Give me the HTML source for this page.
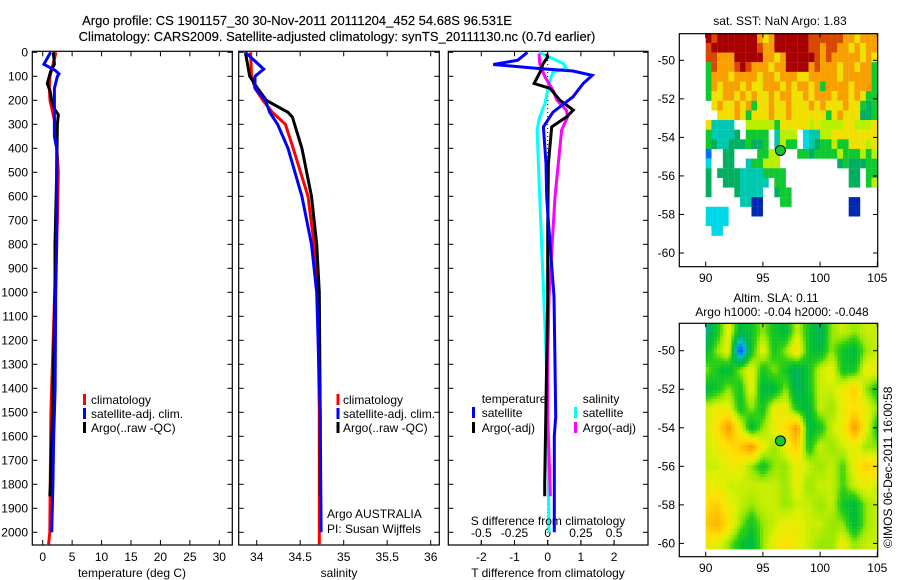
<!DOCTYPE html>
<html><head><meta charset="utf-8"><style>
html,body{margin:0;padding:0;background:#fff}
svg{display:block;font-family:"Liberation Sans",sans-serif;font-size:12px}
</style></head><body>
<svg id="fig" width="900" height="580" viewBox="0 0 900 580" xmlns="http://www.w3.org/2000/svg">
<rect width="900" height="580" fill="#fff"/>
<text x="297" y="25" text-anchor="middle" font-size="13" stroke="#000" stroke-width="0.15">Argo profile: CS 1901157_30 30-Nov-2011 20111204_452 54.68S 96.531E</text>
<text x="337" y="41" text-anchor="middle" font-size="13" stroke="#000" stroke-width="0.15">Climatology: CARS2009. Satellite-adjusted climatology: synTS_20111130.nc (0.7d earlier)</text>
<g id="g1"></g>
<g id="g2"></g>
<g id="g3"></g>
<g id="m1"></g>
<g id="m2"></g>
<text transform="translate(892,548) rotate(-90)" font-size="12">©IMOS 06-Dec-2011 16:00:58</text>
</svg>
<script>
// ---------- profile data ----------
const tDepthClim = [0,100,150,200,250,300,500,700,1000,1500,2000,2050];
const tClim      = [2.26,1.24,1.12,1.24,1.7,2.15,2.65,2.5,2.03,1.4,1.2,1.0];
const tDepthSat  = [0,50,75,90,100,150,200,350,400,800,1000,1400,1600,1800,2000];
const tSat       = [1.35,0.2,2.1,2.77,2.5,1.98,1.98,1.98,2.37,2.37,2.2,2.1,1.87,1.73,1.53];
const tDepthArgo = [0,50,80,130,160,200,240,260,300,500,800,1000,1500,1800,1850];
const tArgo      = [1.8,1.98,1.35,0.78,1.24,1.52,2.09,2.65,2.5,2.37,2.09,2.09,1.66,1.3,1.2];

const sDepthClim = [0,100,150,200,250,300,400,600,800,1000,1500,2050];
const sClim      = [33.93,33.94,33.98,34.07,34.18,34.33,34.42,34.59,34.66,34.70,34.72,34.72];
const sDepthSat  = [0,70,100,150,200,250,300,400,600,800,1000,1500,2000];
const sSat       = [33.87,34.08,33.98,33.98,34.10,34.15,34.24,34.36,34.52,34.63,34.69,34.73,34.74];
const sDepthArgo = [0,100,150,200,250,270,400,600,800,1000,1500,1850];
const sArgo      = [33.87,33.92,34.01,34.11,34.36,34.41,34.52,34.63,34.69,34.72,34.73,34.73];

const dDepthTs = [0,33,51,68,78,96,130,186,249,311,463,603,740,1018,1295,1518,1600,2000];
const dTsat    = [-0.61,-0.9,-1.64,-0.23,0.76,1.34,1.07,0.76,0.16,-0.13,-0.05,-0.03,0.04,0.19,0.22,0.24,0.2,0.2];
const dDepthTa = [6,20,47,82,130,150,200,241,269,311,463,740,1018,1800,1850];
const dTargo   = [-0.03,0,-0.14,-0.23,-0.41,0.07,0.37,0.77,0.57,0.12,0.02,0,0,-0.09,-0.09];
const dDepthSs = [0,47,68,82,130,213,269,324,463,603,740,1018,1295,1518,2000];
const dSsat    = [-0.065,0.12,0.14,0.04,0.01,-0.02,-0.06,-0.08,-0.07,-0.06,-0.05,-0.03,-0.01,0,0.01];
const dDepthSa = [6,47,103,158,200,241,269,324,463,603,740,1018,1295,1518,1850];
const dSargo   = [-0.065,-0.06,-0.02,0.04,0.07,0.14,0.15,0.105,0.08,0.055,0.04,0.01,0,0,0.02];

const depthTicks = [0,100,200,300,400,500,600,700,800,900,1000,1100,1200,1300,1400,1500,1600,1700,1800,1900,2000];
const tTicks = [0,5,10,15,20,25,30];
const sTicks = [34,34.5,35,35.5,36];
const sTickLabels = ["34","34.5","35","35.5","36"];
const dTTicks = [-2,-1,0,1,2];
const dSTicks = [-0.5,-0.25,0,0.25,0.5];

// ---------- SST map (0.5 deg cells, rows from -48.6 southwards) ----------
const sstRows = [
"RrRRRRRRRoyoRRRRRRrrrrrrooyooo",
"rRRRRRRRRrooRRRRRRrrorrooyoyoo",
"rroooRRRRRooyoRRRRRroroooooyoy",
"grooorRroooyooRRRRoroooyooyoog",
"goooyooooyooyoooyyoooooyooooog",
"goyoooyoyyoooyoyooyogooooyooog",
"gyyooyoyoyyoyooyyoyoooyooyoygg",
".yoyyoyogyyoyyoyyyoyoyyyoyygGg",
"..yyyoygyyyoyyoyyyyyygyoyyyGGg",
"ytttt..lllllgyyyyylyllllyyllly",
"gttttG.gggg.tlll.cttllyyyyyyyy",
"gGttGGGgGGg.tlgg.ctGgglggyyyly",
"b..GG....ggll...ggGgggglggglgl",
"c..GG..tgglll..........GgGGGgg",
"G.GGGGttttgggg...........GG.gg",
"G..GGGttttt.gg...........GG.gl",
"G....Gtttt..Ggg...............",
"......ttBB...gg..........BB...",
"cccc....BB...............BB...",
"cccc..........................",
".cc..........................."
];
const sstColors = {R:"#a80000",r:"#d84800",o:"#f8a000",y:"#f0e000",l:"#b8f000",g:"#10c830",G:"#00b060",t:"#00c8b0",c:"#00d8e8",b:"#0070ff",B:"#0028b0"};

// ---------- SLA map (1 deg grid, lon 90..105, lat -49..-60) ----------
const slaLats = [-49,-50,-51,-52,-53,-54,-55,-56,-57,-58,-59,-60];
const slaLons = [90,91,92,93,94,95,96,97,98,99,100,101,102,103,104,105];
const sla = [
[-0.25,-0.1,0.1,-0.15,-0.1,0,-0.1,-0.15,0.05,-0.1,-0.2,0,0.05,0,0.05,0.05],
[-0.15,0,0.1,-0.5,-0.1,0.1,-0.1,0,0.15,-0.1,-0.15,0,-0.1,-0.15,0,0.05],
[0,-0.1,-0.15,0,0.1,-0.1,0,-0.1,-0.2,-0.1,0.05,0.1,-0.1,-0.1,0.1,0.1],
[-0.15,-0.1,0,-0.1,0.1,-0.15,-0.15,0,-0.2,-0.1,0.05,0.05,0.1,0.2,0,-0.1],
[0.05,0.1,0.1,-0.1,0,-0.1,0.1,0.1,-0.1,-0.15,0.05,0,0.1,0.15,0.1,0],
[0.05,0.15,0.3,0.1,-0.15,0,0.1,0.15,0.3,-0.15,-0.1,0.05,0.1,0.3,0.1,-0.1],
[0.05,0.1,0.15,0.2,0.3,0.1,0,0.1,0.2,-0.1,0.05,0,0.05,0.1,0,0],
[0.05,0.05,0.1,0.1,0,-0.1,0,0,0.1,0.05,0,0.05,-0.05,0.1,0.2,0.15],
[0.1,0.1,0.05,0.05,0.05,0.05,0.05,0,0.1,0,0.05,0.05,-0.05,0.05,0.1,0.05],
[0.15,0.2,0.1,0.05,0,0.05,0.05,0,0.05,0.05,0,0.05,-0.1,-0.15,0,0.05],
[0.2,0.25,0.15,0,-0.1,0,0.05,0.1,0.1,0.05,0.05,0,0,-0.15,0,0.05],
[0.1,0.1,0,-0.1,-0.15,0,0.1,0.15,0.1,0.05,0,0,0.1,0,0.05,0.05]
];
const argoLon = 96.531, argoLat = -54.68;
const latTicks = [-50,-52,-54,-56,-58,-60];
const lonTicks = [90,95,100,105];

// ---------- helpers ----------
const NS="http://www.w3.org/2000/svg";
function mk(parent,tag,attrs){const e=document.createElementNS(NS,tag);for(const k in attrs)e.setAttribute(k,attrs[k]);parent.appendChild(e);return e;}
function txt(parent,x,y,s,anchor,size){const e=mk(parent,"text",{x:x,y:y,"text-anchor":anchor||"start","font-size":size||12});e.textContent=s;return e;}
const yD = d => 52.3 + d*0.24;

function frame(g,x0,x1,y0,y1){
  const r=mk(g,"rect",{x:x0,y:y0,width:x1-x0,height:y1-y0,fill:"none",stroke:"#000","stroke-width":1.2});
  
  
}
function depthTicksOn(g,x0,x1,labels){
  depthTicks.forEach(d=>{
    const y=yD(d);
    mk(g,"line",{x1:x0,x2:x0+5,y1:y,y2:y,stroke:"#000"});
    mk(g,"line",{x1:x1-5,x2:x1,y1:y,y2:y,stroke:"#000"});
    if(labels){const t=txt(g,28,y+4,String(d),"end");
      
      }
  });
}
function xTicks(g,vals,labs,fx,yb,yt,labY){
  vals.forEach((v,i)=>{
    const x=fx(v);
    mk(g,"line",{x1:x,x2:x,y1:yb,y2:yb-5,stroke:"#000"});
    mk(g,"line",{x1:x,x2:x,y1:yt,y2:yt+5,stroke:"#000"});
    const t=txt(g,x,labY,labs[i],"middle");
    
    
  });
}
function profile(g,depths,vals,fx,color,name){
  const pts=depths.map((d,i)=>fx(vals[i]).toFixed(1)+","+yD(d).toFixed(1)).join(" ");
  const p=mk(g,"polyline",{points:pts,fill:"none",stroke:color,"stroke-width":3,"stroke-linejoin":"miter"});
  
  
}
function legendItem(g,bx,tx,y,color,label,name){
  mk(g,"rect",{x:bx,y:y-10,width:3,height:11,fill:color});
  const t=txt(g,tx,y,label);
  
  
}

// ---------- panel 1: temperature ----------
const g1=document.getElementById("g1");
const fxT=v=>42.7+v*5.887;
frame(g1,32.3,232.3,51.3,545);
depthTicksOn(g1,32.3,232.3,true);
xTicks(g1,tTicks,tTicks.map(String),fxT,545,51.3,561);
profile(g1,tDepthClim,tClim,fxT,"#f00","temp-climatology-line");
profile(g1,tDepthArgo,tArgo,fxT,"#000","temp-argo-line");
profile(g1,tDepthSat,tSat,fxT,"#00f","temp-satellite-line");
legendItem(g1,83,91,404,"#f00","climatology","legend-climatology");
legendItem(g1,83,91,418,"#00f","satellite-adj. clim.","legend-satellite");
legendItem(g1,83,91,432,"#000","Argo(..raw -QC)","legend-argo");
{const t=txt(g1,132,577,"temperature (deg C)","middle");}

// ---------- panel 2: salinity ----------
const g2=document.getElementById("g2");
const fxS=v=>256.7+(v-34)*87;
frame(g2,238.7,439.3,51.3,545);
depthTicksOn(g2,238.7,439.3,false);
xTicks(g2,sTicks,sTickLabels,fxS,545,51.3,561);
profile(g2,sDepthClim,sClim,fxS,"#f00","sal-climatology-line");
profile(g2,sDepthArgo,sArgo,fxS,"#000","sal-argo-line");
profile(g2,sDepthSat,sSat,fxS,"#00f","sal-satellite-line");
legendItem(g2,336.5,343,404,"#f00","climatology","legend-climatology");
legendItem(g2,336.5,343,418,"#00f","satellite-adj. clim.","legend-satellite");
legendItem(g2,336.5,343,432,"#000","Argo(..raw -QC)","legend-argo");
{let t=txt(g2,327,518,"Argo AUSTRALIA");
 t=txt(g2,327,533,"PI: Susan Wijffels");
 t=txt(g2,339,577,"salinity","middle");}

// ---------- panel 3: differences ----------
const g3=document.getElementById("g3");
const fxDT=v=>547.7+v*33.2;
const fxDS=v=>547.7+v*132.8;
frame(g3,448.3,648,51.3,545);
depthTicksOn(g3,448.3,648,false);
xTicks(g3,dTTicks,dTTicks.map(String),fxDT,545,51.3,561);
mk(g3,"line",{x1:fxDT(0),x2:fxDT(0),y1:52,y2:545,stroke:"#000","stroke-dasharray":"1,3"});
dSTicks.forEach(v=>{const x=fxDS(v);mk(g3,"line",{x1:x,x2:x,y1:545,y2:540,stroke:"#000"});
  const t=txt(g3,x,537,String(v),"middle");});
profile(g3,dDepthSs,dSsat.map(v=>v*4),fxDT,"#0ff","sdiff-satellite-line");
profile(g3,dDepthSa,dSargo.map(v=>v*4),fxDT,"#f0f","sdiff-argo-line");
profile(g3,dDepthTa,dTargo,fxDT,"#000","tdiff-argo-line");
profile(g3,dDepthTs,dTsat,fxDT,"#00f","tdiff-satellite-line");
{let t=txt(g3,481.7,403,"temperature");
 t=txt(g3,582.7,403,"salinity");}
legendItem(g3,472,481.7,417,"#00f","satellite","legend-t-satellite");
legendItem(g3,472,481.7,432,"#000","Argo(-adj)","legend-t-argo");
legendItem(g3,574,582.7,417,"#0ff","satellite","legend-s-satellite");
legendItem(g3,574,582.7,432,"#f0f","Argo(-adj)","legend-s-argo");
{let t=txt(g3,548,525,"S difference from climatology","middle");
 t=txt(g3,548,577,"T difference from climatology","middle");}

// ---------- maps ----------
const fxLon=v=>705.7+(v-90)*11.44;
function mapAxes(g,top,bottom,lat50,labelY){
  const fy=v=>lat50+(-50-v)*19.27;
  const fr=mk(g,"rect",{x:679.3,y:top,width:198.4,height:bottom-top,fill:"none",stroke:"#000","stroke-width":1.2});
  
  
  latTicks.forEach(v=>{const y=fy(v);
    mk(g,"line",{x1:679.3,x2:684,y1:y,y2:y,stroke:"#000"});
    mk(g,"line",{x1:873,x2:877.7,y1:y,y2:y,stroke:"#000"});
    const t=txt(g,675,y+4,String(v),"end");});
  lonTicks.forEach(v=>{const x=fxLon(v);
    mk(g,"line",{x1:x,x2:x,y1:bottom,y2:bottom-5,stroke:"#000"});
    mk(g,"line",{x1:x,x2:x,y1:top,y2:top+4,stroke:"#000"});
    const t=txt(g,x,labelY,String(v),"middle");});
  return fy;
}
// SST map
const m1=document.getElementById("m1");
{const fy1=v=>60.3+(-50-v)*19.27;
 sstRows.forEach((row,i)=>{
  for(let j=0;j<row.length;j++){
    const ch=row[j]; if(ch===".")continue;
    const lon=90+j*0.5, lat=-48.6-i*0.5;
    const r=mk(m1,"rect",{x:fxLon(lon).toFixed(2),y:fy1(lat).toFixed(2),width:5.8,height:9.75,fill:sstColors[ch]});
    
    
  }});
 mapAxes(m1,33.7,266.7,60.3,282);
 const c=mk(m1,"circle",{cx:fxLon(argoLon),cy:fy1(argoLat),r:5,fill:"#10c830",stroke:"#000","stroke-width":1});
 
 
 const t=txt(m1,780,25,"sat. SST: NaN Argo: 1.83","middle");}

// SLA map
const m2=document.getElementById("m2");
const slaStops=[[-0.5,[0,32,192]],[-0.4,[0,128,255]],[-0.3,[0,192,192]],[-0.2,[0,176,96]],[-0.12,[0,192,48]],[-0.05,[48,208,16]],[0,[150,232,0]],[0.07,[220,240,0]],[0.15,[255,224,0]],[0.22,[255,192,0]],[0.3,[255,144,0]]];
function slaColor(v){
  if(v<=slaStops[0][0])return "rgb("+slaStops[0][1]+")";
  for(let i=1;i<slaStops.length;i++){if(v<=slaStops[i][0]){const a=slaStops[i-1],b=slaStops[i],f=(v-a[0])/(b[0]-a[0]);
    return "rgb("+a[1].map((c,k)=>Math.round(c+(b[1][k]-c)*f)).join(",")+")";}}
  return "rgb("+slaStops[slaStops.length-1][1]+")";
}
function slaAt(lon,lat){
  let fi=Math.min(Math.max(-49-lat,0),11), fj=Math.min(Math.max(lon-90,0),15);
  const i0=Math.min(Math.floor(fi),10), j0=Math.min(Math.floor(fj),14), di=fi-i0, dj=fj-j0;
  return sla[i0][j0]*(1-di)*(1-dj)+sla[i0+1][j0]*di*(1-dj)+sla[i0][j0+1]*(1-di)*dj+sla[i0+1][j0+1]*di*dj;
}
{const fy2=v=>350.7+(-50-v)*19.27;
 for(let lat=-48.6;lat>-60.15;lat-=0.15){
  for(let lon=90;lon<105;lon+=0.25){
    const r=mk(m2,"rect",{x:fxLon(lon).toFixed(2),y:fy2(lat).toFixed(2),width:3.0,height:3.1,fill:slaColor(slaAt(lon+0.125,lat-0.075))});
    
    
  }}
 mapAxes(m2,323.3,556.7,350.7,572);
 const c=mk(m2,"circle",{cx:fxLon(argoLon),cy:fy2(argoLat),r:5,fill:"#10c830",stroke:"#000","stroke-width":1});
 
 
 let t=txt(m2,776,302,"Altim. SLA: 0.11","middle");
 t=txt(m2,782,316,"Argo h1000: -0.04 h2000: -0.048","middle");}
</script>
</body></html>
